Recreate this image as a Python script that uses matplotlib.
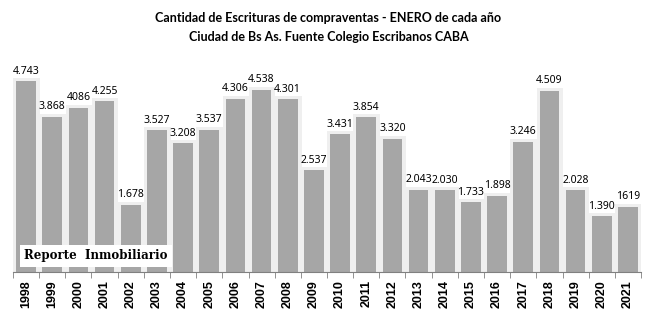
import matplotlib.pyplot as plt
import matplotlib.patheffects as pe
import numpy as np

years = [str(y) for y in range(1998, 2022)]
values = [4743, 3868, 4086, 4255, 1678, 3527, 3208, 3537, 4306, 4538, 4301, 2537,
          3431, 3854, 3320, 2043, 2030, 1733, 1898, 3246, 4509, 2028, 1390, 1619]
labels = ['4.743', '3.868', '4086', '4.255', '1.678', '3.527', '3.208', '3.537',
          '4.306', '4.538', '4.301', '2.537', '3.431', '3.854', '3.320', '2.043',
          '2.030', '1.733', '1.898', '3.246', '4.509', '2.028', '1.390', '1619']

fig = plt.figure(figsize=(6.57, 3.30), dpi=100)
ax = fig.add_axes([13 / 657, 58 / 330, 628 / 657, 201 / 330])

x = np.arange(len(years))
bars = ax.bar(x, values, width=0.75, color='#a6a6a6', zorder=2)
for b in bars:
    b.set_path_effects([pe.Stroke(linewidth=5, foreground='#efefef'), pe.Normal()])

for xi, v, lab in zip(x, values, labels):
    ax.text(xi, v + 110, lab, ha='center', va='bottom', fontsize=7.5,
            family='Noto Sans', fontweight='bold' if lab == '1.390' else 'normal')

ax.set_xlim(-0.5, len(years) - 0.5)
ax.set_ylim(0, 5000)
ax.set_yticks([])
ax.set_xticks(x)
ax.set_xticklabels(years, rotation=90, fontsize=9, fontweight='bold', family='Liberation Sans')
ax.tick_params(axis='x', length=0, pad=6)
ax.set_xticks(np.arange(-0.5, len(years)), minor=True)
ax.tick_params(axis='x', which='minor', length=4, color='#808080')
for s in ['top', 'right', 'left']:
    ax.spines[s].set_visible(False)
ax.spines['bottom'].set_color('#808080')

fig.text(0.5, 0.945, 'Cantidad de Escrituras de compraventas - ENERO de cada año',
         ha='center', va='center', fontsize=9, fontweight='bold', family='Lato')
fig.text(0.5, 0.888, 'Ciudad de Bs As. Fuente Colegio Escribanos CABA',
         ha='center', va='center', fontsize=9, fontweight='bold', family='Lato')

ax.text(0.018, 0.08, 'Reporte  Inmobiliario', transform=ax.transAxes, fontsize=8.5,
        family='DejaVu Serif', fontweight='bold', va='center', ha='left', zorder=5,
        bbox=dict(facecolor='white', edgecolor='none', pad=3))

fig.savefig('out.png', dpi=100)
